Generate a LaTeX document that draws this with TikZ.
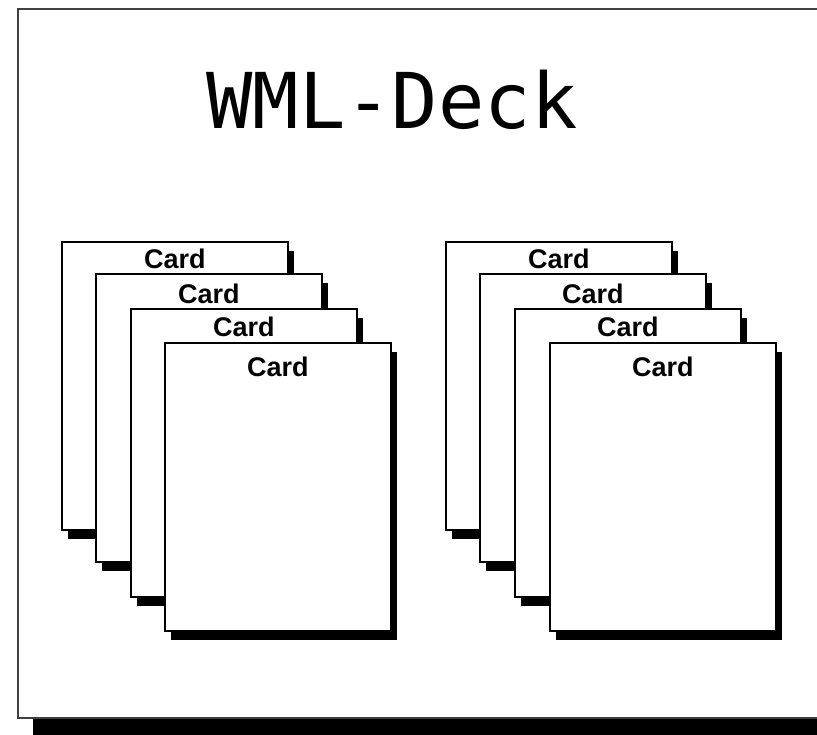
\documentclass[tikz,border=0pt]{standalone}
\usepackage{fontspec}
\setmainfont{Liberation Sans}
\newfontfamily\titlefont{DejaVu Sans Mono}
\usetikzlibrary{shadows}
\tikzset{
  card/.style={draw=black, fill=white, line width=1.6pt, anchor=north west,
    minimum width=226pt, minimum height=288pt, inner sep=0pt,
    drop shadow={shadow xshift=6pt, shadow yshift=-9pt, opacity=1, fill=black}},
  cardtext/.style={font=\fontsize{27}{27}\selectfont\bfseries, anchor=base, inner sep=0pt},
  frame/.style={draw=black!75, line width=1.8pt, fill=white}
}
\begin{document}
\begin{tikzpicture}[x=1pt,y=-1pt]
\useasboundingbox (0,0) rectangle (817,734);
\clip (0,0) rectangle (817,734);
\fill[white] (0,0) rectangle (817,734);
% deck frame
\fill[black] (33,718) rectangle (840,750);
\draw[frame] (18,9) rectangle (840,718);
\node[font=\titlefont\fontsize{77}{77}\selectfont, anchor=base, inner sep=0pt] (title) at (392,128) {WML-Deck};
% left stack
\node[card] (a1) at (61,241) {};
\node[cardtext] (a1t) at ([yshift=-27pt]a1.north) {Card};
\node[card] (a2) at (95,273) {};
\node[cardtext] (a2t) at ([yshift=-30pt]a2.north) {Card};
\node[card] (a3) at (130,308) {};
\node[cardtext] (a3t) at ([yshift=-28pt]a3.north) {Card};
\node[card] (a4) at (164,342) {};
\node[cardtext] (a4t) at ([yshift=-34pt]a4.north) {Card};
% right stack
\node[card] (b1) at (445,241) {};
\node[cardtext] (b1t) at ([yshift=-27pt]b1.north) {Card};
\node[card] (b2) at (479,273) {};
\node[cardtext] (b2t) at ([yshift=-30pt]b2.north) {Card};
\node[card] (b3) at (514,308) {};
\node[cardtext] (b3t) at ([yshift=-28pt]b3.north) {Card};
\node[card] (b4) at (549,342) {};
\node[cardtext] (b4t) at ([yshift=-34pt]b4.north) {Card};
\end{tikzpicture}
\end{document}
